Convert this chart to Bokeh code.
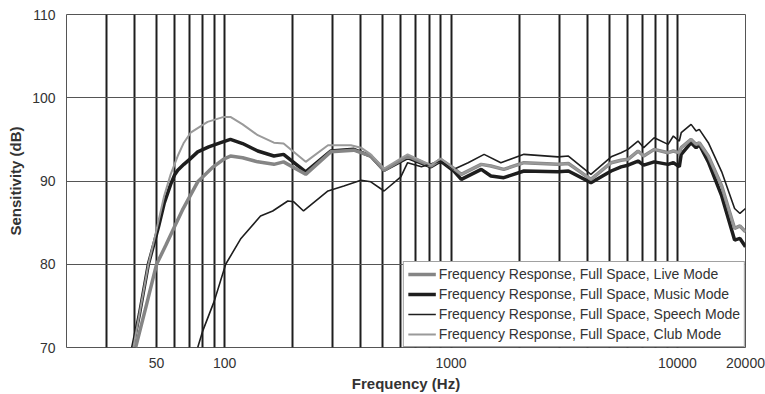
from bokeh.plotting import figure
from bokeh.models import Range1d, FixedTicker, CustomJSTickFormatter, Legend, LegendItem
from bokeh.embed import file_html
from bokeh.resources import INLINE

# ---- data ----
live_f = [40.4, 45, 50, 55, 59.5, 65, 76, 89, 100, 106, 120, 140, 165, 182, 228, 294, 372, 442, 506,
          643, 815, 900, 1030, 1110, 1360, 1500, 1710, 2100, 2970, 3300, 4150, 5100, 5640, 6050, 6700,
          7100, 7900, 9100, 9600, 10200, 10400, 11500, 12100, 12500, 13700, 15700, 17900, 18900, 20000]
live_db = [70, 75, 80, 82.3, 84.3, 86.5, 89.9, 91.7, 92.7, 93.0, 92.8, 92.3, 92.0, 92.3, 90.8, 93.5, 93.7, 93.0, 91.3,
           93.0, 91.8, 92.6, 91.5, 90.8, 92.0, 91.8, 91.4, 92.2, 92.0, 92.1, 90.2, 92.2, 92.5, 92.6, 93.6,
           93.0, 93.8, 93.4, 93.6, 93.4, 94.0, 95.0, 94.4, 94.6, 93.0, 89.4, 84.3, 84.6, 83.9]

music_f = [39.2, 42, 46, 48.5, 51, 54, 57.7, 60, 62, 66, 70, 76, 85, 96, 106, 120, 140, 165, 182, 228, 294, 372, 442, 506,
           643, 815, 900, 1030, 1110, 1360, 1500, 1710, 2100, 2970, 3300, 4150, 5100, 5640, 6050, 6700,
           7100, 7900, 9100, 9600, 10200, 10400, 11500, 12100, 12500, 13700, 15700, 17900, 18900, 20000]
music_db = [70, 74, 80, 82.3, 84.5, 87.3, 89.6, 90.7, 91.3, 92.0, 92.6, 93.5, 94.1, 94.6, 95.0, 94.5, 93.6, 93.0, 93.2, 91.1, 93.6, 93.8, 93.0, 91.3,
            92.8, 91.7, 92.4, 91.2, 90.2, 91.4, 90.6, 90.4, 91.2, 91.1, 91.2, 89.8, 91.2, 91.7, 91.9, 92.4,
            91.9, 92.3, 92.0, 92.2, 91.7, 93.2, 94.6, 94.0, 94.4, 92.3, 88.2, 82.9, 83.1, 82.1]

speech_f = [76, 80, 90, 101, 118, 144, 163, 190, 202, 223, 286, 336, 400, 442, 506, 600, 643, 740, 900,
            1030, 1190, 1400, 1660, 2100, 2970, 3300, 4150, 5100, 5640, 6050, 6700, 7100, 7900, 9100,
            9600, 10200, 10400, 11500, 12100, 12500, 13700, 15700, 17900, 18900, 20000]
speech_db = [70, 72, 75.6, 80, 83.1, 85.8, 86.4, 87.6, 87.5, 86.4, 88.8, 89.4, 90.1, 89.9, 88.8, 90.5, 92.2, 91.7, 92.4,
             91.4, 92.2, 93.2, 92.2, 93.2, 92.9, 93.0, 90.8, 92.9, 93.4, 93.8, 94.8, 94.0, 95.2, 94.4,
             95.4, 94.8, 95.8, 96.8, 96.0, 96.2, 94.6, 91.1, 86.7, 86.1, 86.7]

club_f = [39.5, 42, 46, 48.5, 51, 54, 57.7, 62, 66, 70.7, 84, 99, 106, 120, 140, 165, 182, 228, 286, 361, 400, 442, 506,
          643, 815, 900, 1030, 1110, 1360, 1500, 1710, 2100, 2970, 3300, 4150, 5100, 5640, 6050, 6700,
          7100, 7900, 9100, 9600, 10200, 10400, 11500, 12100, 12500, 13700, 15700, 17900, 18900, 20000]
club_db = [70, 74, 80, 82.6, 85.2, 88.2, 90.8, 93.0, 94.6, 95.8, 97.1, 97.7, 97.7, 96.8, 95.5, 94.6, 94.5, 92.3, 94.3, 94.3, 94.0, 93.2, 91.5,
           93.2, 91.9, 92.7, 91.5, 90.8, 92.0, 91.8, 91.4, 92.2, 92.0, 92.1, 90.2, 92.2, 92.5, 92.6, 93.6,
           93.0, 93.8, 93.4, 93.6, 93.4, 94.0, 95.0, 94.4, 94.6, 93.0, 89.4, 84.3, 84.6, 83.9]

x_tick_labels = [50, 100, 1000, 10000, 20000]
x_grid_lines = [30, 40, 50, 60, 70, 80, 90, 100, 200, 300, 400, 500, 600, 700, 800, 900, 1000,
                2000, 3000, 4000, 5000, 6000, 7000, 8000, 9000, 10000]
y_ticks = [70, 80, 90, 100, 110]

labels = ["Frequency Response, Full Space, Live Mode",
          "Frequency Response, Full Space, Music Mode",
          "Frequency Response, Full Space, Speech Mode",
          "Frequency Response, Full Space, Club Mode"]

FONT = "Liberation Sans"

p = figure(width=765, height=394, x_axis_type="log",
           x_range=Range1d(20, 20000), y_range=Range1d(70, 110),
           output_backend="svg", toolbar_location=None,
           min_border_left=66, min_border_right=20, min_border_top=14, min_border_bottom=44)

p.outline_line_color = "#555555"
p.outline_line_width = 1

# axes
p.xaxis.ticker = FixedTicker(ticks=x_tick_labels)
p.xaxis.formatter = CustomJSTickFormatter(code="return String(Math.round(tick));")
p.yaxis.ticker = FixedTicker(ticks=y_ticks)
for ax in (p.xaxis[0], p.yaxis[0]):
    ax.axis_line_color = None
    ax.major_tick_line_color = None
    ax.minor_tick_line_color = None
    ax.major_tick_out = 0
    ax.major_tick_in = 0
    ax.minor_tick_out = 0
    ax.major_label_text_font = FONT
    ax.major_label_text_font_size = "14px"
    ax.major_label_text_color = "#333333"
    ax.axis_label_text_font = FONT
    ax.axis_label_text_font_size = "15px"
    ax.axis_label_text_font_style = "bold"
    ax.axis_label_text_color = "#333333"
p.xaxis.axis_label = "Frequency (Hz)"
p.yaxis.axis_label = "Sensitivity (dB)"
p.xaxis.major_label_standoff = 10
p.xaxis.axis_label_standoff = 4
p.yaxis.major_label_standoff = 11
p.yaxis.axis_label_standoff = 5

# grids
p.xgrid.ticker = FixedTicker(ticks=x_grid_lines)
p.xgrid.grid_line_color = "#1e1e1e"
p.xgrid.grid_line_width = 2
p.xgrid.minor_grid_line_color = None
p.ygrid.ticker = FixedTicker(ticks=y_ticks)
p.ygrid.grid_line_color = "#555555"
p.ygrid.grid_line_width = 1

# series
r_music = p.line(music_f, music_db, line_color="#1e1e1e", line_width=3.5)
r_live = p.line(live_f, live_db, line_color="#858585", line_width=3.5)
r_speech = p.line(speech_f, speech_db, line_color="#1e1e1e", line_width=1.6)
r_club = p.line(club_f, club_db, line_color="#9a9a9a", line_width=2)

legend = Legend(items=[LegendItem(label=labels[0], renderers=[r_live]),
                       LegendItem(label=labels[1], renderers=[r_music]),
                       LegendItem(label=labels[2], renderers=[r_speech]),
                       LegendItem(label=labels[3], renderers=[r_club])],
                location="bottom_right", margin=0, padding=4, spacing=4,
                glyph_width=28, glyph_height=16, label_height=16, label_standoff=3,
                label_text_font=FONT, label_text_font_size="14px", label_text_color="#333333",
                border_line_color="#444444", border_line_width=1,
                background_fill_color="white", background_fill_alpha=1)
p.add_layout(legend)

open("out.html", "w").write(file_html(p, INLINE))
